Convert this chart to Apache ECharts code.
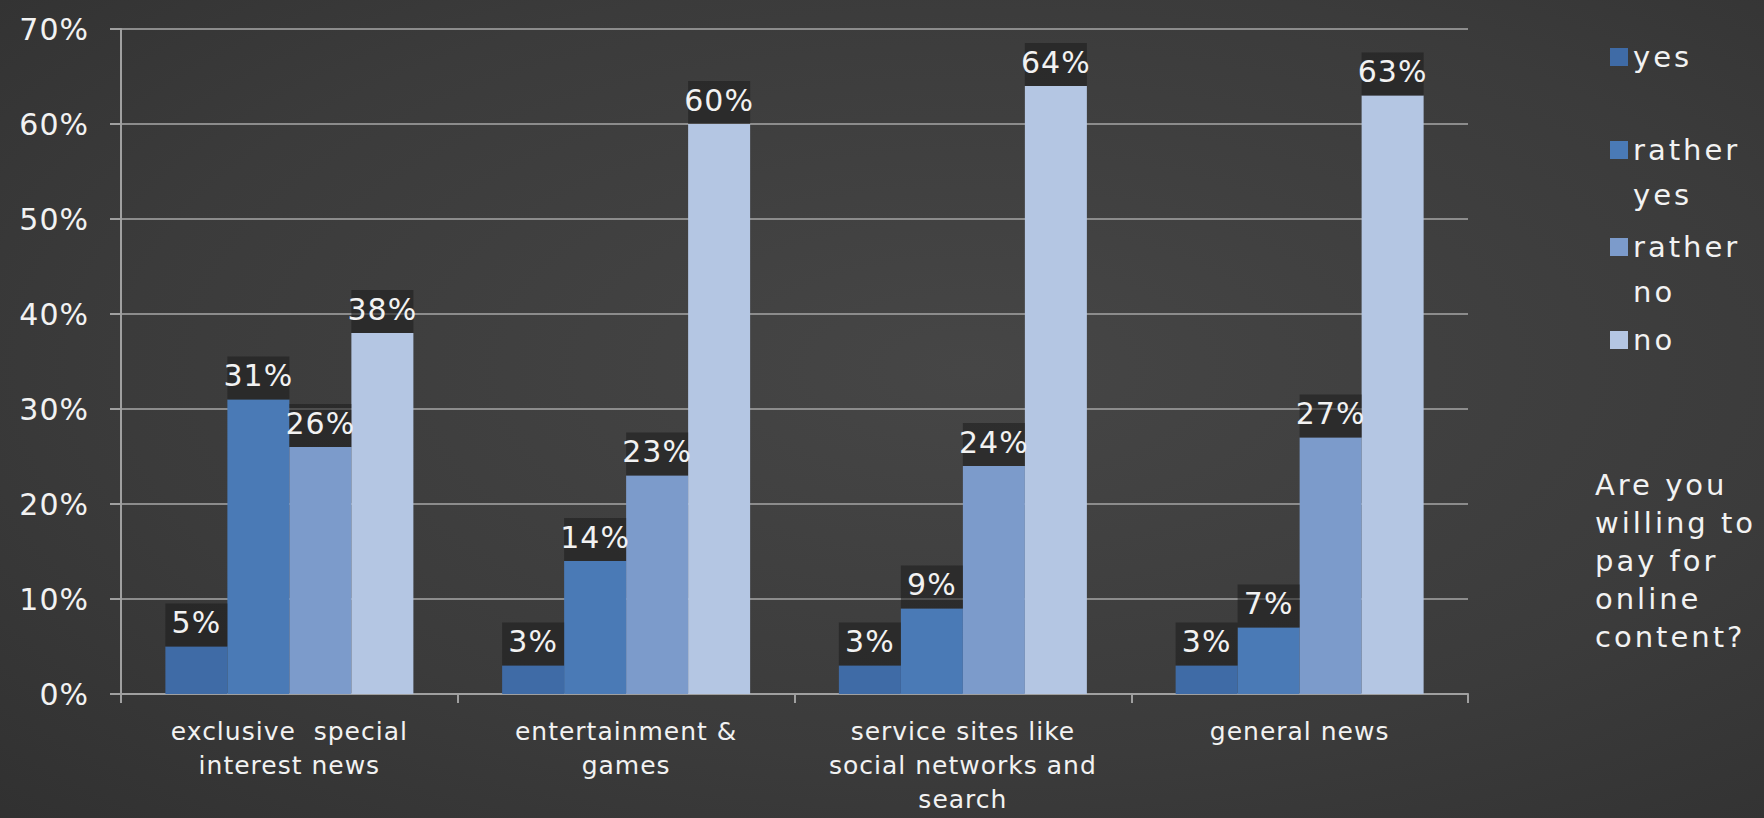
<!DOCTYPE html>
<html>
<head>
<meta charset="utf-8">
<script src="https://cdn.jsdelivr.net/npm/echarts@6/dist/echarts.min.js"></script>
<style>
html,body{margin:0;padding:0;background:#3a3a3a;}
#c{width:1764px;height:818px;}
#c svg text{letter-spacing:1px;}
#c svg text[style*="29px"]{letter-spacing:3px;}
</style>
</head>
<body>
<div id="c"></div>
<script>
const categories = [
  'exclusive  special\ninterest news',
  'entertainment &\ngames',
  'service sites like\nsocial networks and\nsearch',
  'general news'
];
const seriesNames = ['yes', 'rather yes', 'rather no', 'no'];
const yesValues = [5, 3, 3, 3];
const ratherYesValues = [31, 14, 9, 7];
const ratherNoValues = [26, 23, 24, 27];
const noValues = [38, 60, 64, 63];
const yTicks = [0, 10, 20, 30, 40, 50, 60, 70];
const titleText = 'Are you\nwilling to\npay for\nonline\ncontent?';

const colors = ['#3f6ba6', '#4a7ab6', '#7c9bcb', '#b4c6e3'];
const valueSets = [yesValues, ratherYesValues, ratherNoValues, noValues];
const FONT = 'DejaVu Sans';
const TXT = '#f2f2f2';

const chart = echarts.init(document.getElementById('c'), null, {renderer: 'svg'});

const series = seriesNames.map((n, i) => ({
  name: n,
  type: 'bar',
  data: valueSets[i],
  barWidth: 62,
  barGap: '0%',
  itemStyle: {color: colors[i]},
  label: {
    show: true,
    position: 'top',
    distance: 0,
    formatter: '{c}%',
    color: TXT,
    fontFamily: FONT,
    fontSize: 30,
    backgroundColor: 'rgba(28,28,28,0.55)',
    width: 62,
    align: 'center',
    padding: [3, 0, 8, 0],
    lineHeight: 32
  }
}));

const legendPos = [
  {name: 'yes', center: 57, lines: 1},
  {name: 'rather yes', center: 150, lines: 3},
  {name: 'rather no', center: 247, lines: 3},
  {name: 'no', center: 340, lines: 1}
];
const LH = 45;
const legends = legendPos.map(p => ({
  data: [p.name],
  orient: 'vertical',
  left: 1610,
  top: p.center - (p.lines * LH) / 2,
  padding: 0,
  itemWidth: 18,
  itemHeight: 18,
  itemGap: 0,
  icon: 'rect',
  selectedMode: false,
  formatter: function (name) {
    if (name === 'rather yes') return '\nrather\nyes';
    if (name === 'rather no') return '\nrather\nno';
    return name;
  },
  textStyle: {color: TXT, fontFamily: FONT, fontSize: 29, lineHeight: LH}
}));

chart.setOption({
  backgroundColor: {
    type: 'radial', x: 0.55, y: 0.45, r: 0.8,
    colorStops: [
      {offset: 0, color: '#464646'},
      {offset: 0.6, color: '#3b3b3b'},
      {offset: 1, color: '#303030'}
    ]
  },
  animation: false,
  title: {
    text: titleText,
    left: 1595,
    top: 466,
    padding: 0,
    textStyle: {color: TXT, fontFamily: FONT, fontSize: 29, fontWeight: 'normal', lineHeight: 38}
  },
  legend: legends,
  grid: {left: 121, right: 296, top: 29, bottom: 124, containLabel: false, outerBoundsMode: 'none'},
  xAxis: {
    type: 'category',
    data: categories,
    axisLine: {show: true, lineStyle: {color: '#a0a0a0', width: 2}},
    axisTick: {show: true, length: 9, lineStyle: {color: '#a0a0a0', width: 2}},
    axisLabel: {color: TXT, fontFamily: FONT, fontSize: 25, lineHeight: 34, margin: 20, interval: 0}
  },
  yAxis: {
    type: 'value',
    min: 0,
    max: 70,
    interval: 10,
    axisLine: {show: true, lineStyle: {color: '#a0a0a0', width: 2}},
    axisTick: {show: true, length: 11, lineStyle: {color: '#a0a0a0', width: 2}},
    splitLine: {show: true, lineStyle: {color: '#8c8c8c', width: 2}},
    axisLabel: {
      color: TXT, fontFamily: FONT, fontSize: 30, margin: 32,
      formatter: v => (yTicks.indexOf(v) >= 0 ? v + '%' : '')
    }
  },
  series: series
});
</script>
</body>
</html>
